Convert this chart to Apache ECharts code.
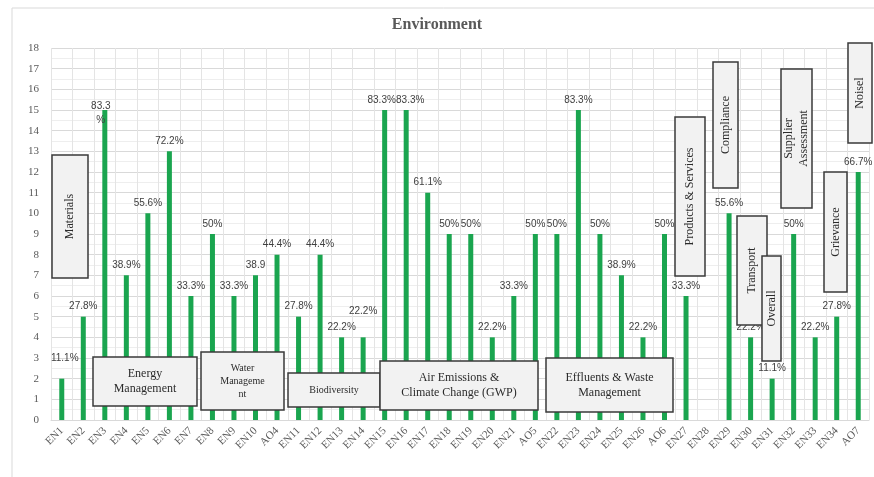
<!DOCTYPE html>
<html>
<head>
<meta charset="utf-8">
<script src="https://cdn.jsdelivr.net/npm/echarts@6/dist/echarts.min.js"></script>
<style>
  html, body { margin: 0; padding: 0; background: #fff; }
  #chart { width: 874px; height: 477px; }
</style>
</head>
<body>
<div id="chart"></div>
<script>
// Indicators along the x axis
var categories = ['EN1','EN2','EN3','EN4','EN5','EN6','EN7','EN8','EN9','EN10','AO4','EN11','EN12','EN13','EN14',
  'EN15','EN16','EN17','EN18','EN19','EN20','EN21','AO5','EN22','EN23','EN24','EN25','EN26','AO6','EN27','EN28',
  'EN29','EN30','EN31','EN32','EN33','EN34','AO7'];

// Number of reports disclosing each indicator (out of 18)
var counts = [2,5,15,7,10,13,6,9,6,7,8,5,8,4,4,
  15,15,11,9,9,4,6,9,9,15,9,7,4,9,6,0,
  10,4,2,9,4,5,12];

// Percentage labels shown above the bars
var percentLabels = ['11.1%','27.8%','83.3\n%','38.9%','55.6%','72.2%','33.3%','50%','33.3%','38.9','44.4%','27.8%','44.4%','22.2%','22.2%',
  '83.3%','83.3%','61.1%','50%','50%','22.2%','33.3%','50%','50%','83.3%','50%','38.9%','22.2%','50%','33.3%','',
  '55.6%','22.2%','11.1%','50%','22.2%','27.8%','66.7%'];

// Y axis tick values
var yTicks = [0,1,2,3,4,5,6,7,8,9,10,11,12,13,14,15,16,17,18];

// Aspect groups drawn as annotation boxes
var groupNames = ['Materials','Energy\nManagement','Water\nManageme\nnt','Biodiversity','Air Emissions &\nClimate Change (GWP)',
  'Effluents & Waste\nManagement','Products & Services','Compliance','Transport','Overall','Supplier\nAssessment','Grievance','Noisel'];

var chart = echarts.init(document.getElementById('chart'), null, { renderer: 'canvas' });

var serif = '"Liberation Serif", "DejaVu Serif", serif';

// a few labels are nudged so they do not collide with neighbours
var labelNudges = {
  EN1: [3, -10],
  EN3: [-4, 20],
  EN14: [0, -16],
  EN16: [4, 0],
  EN15: [-3, 0]
};

var barData = counts.map(function (v, i) {
  var item = { value: v };
  var nudge = labelNudges[categories[i]];
  if (nudge) {
    item.label = { offset: nudge };
  }
  return item;
});

// annotation box helper: x, y, w, h in pixels
function box(x, y, w, h, text, fontSize, vertical) {
  return {
    type: 'group',
    children: [
      {
        type: 'rect',
        shape: { x: x, y: y, width: w, height: h },
        style: { fill: '#f2f2f2', stroke: '#3a3a3a', lineWidth: 1.5 },
        z: 10
      },
      {
        type: 'text',
        x: x + w / 2,
        y: y + h / 2,
        rotation: vertical ? Math.PI / 2 : 0,
        style: {
          text: text,
          font: fontSize + 'px ' + serif,
          fill: '#2b2b2b',
          textAlign: 'center',
          textVerticalAlign: 'middle',
          lineHeight: fontSize + 3
        },
        z: 11
      }
    ]
  };
}

var option = {
  backgroundColor: '#ffffff',
  animation: false,
  title: {
    text: 'Environment',
    left: 'center',
    top: 12,
    textStyle: { fontFamily: serif, fontSize: 16, fontWeight: 'bold', color: '#595959' }
  },
  grid: { left: 51, right: 5, top: 48, bottom: 57, containLabel: false },
  xAxis: {
    type: 'category',
    data: categories,
    boundaryGap: true,
    axisLine: { show: true, lineStyle: { color: '#d9d9d9' } },
    axisTick: { show: false },
    axisLabel: {
      interval: 0,
      rotate: 45,
      margin: 9,
      fontFamily: serif,
      fontSize: 11,
      color: '#595959'
    },
    splitLine: { show: true, interval: 0, lineStyle: { color: '#e4e4e4', width: 1 } }
  },
  yAxis: {
    type: 'value',
    min: yTicks[0],
    max: yTicks[yTicks.length - 1],
    interval: 1,
    axisLine: { show: false },
    axisTick: { show: false },
    axisLabel: { fontFamily: serif, fontSize: 11, color: '#595959', margin: 12 },
    splitLine: { show: true, lineStyle: { color: '#d9d9d9', width: 1 } },
    minorTick: { show: false, splitNumber: 2 },
    minorSplitLine: { show: true, lineStyle: { color: '#eeeeee', width: 1 } }
  },
  series: [{
    type: 'bar',
    data: barData,
    barWidth: 5,
    itemStyle: { color: '#1aa54f' },
    label: {
      show: true,
      position: 'top',
      distance: 3,
      fontFamily: '"Liberation Sans", Arial, sans-serif',
      fontSize: 10,
      color: '#404040',
      lineHeight: 14,
      formatter: function (p) { return percentLabels[p.dataIndex]; }
    },
    z: 5
  }],
  graphic: [
    {
      type: 'rect',
      shape: { x: 12, y: 8, width: 880, height: 480 },
      style: { fill: 'none', stroke: '#d9d9d9', lineWidth: 1 },
      z: 0
    },
    box(52, 155, 36, 123, groupNames[0], 12, true),
    box(93, 357, 104, 49, groupNames[1], 12, false),
    box(201, 352, 83, 58, groupNames[2], 10, false),
    box(288, 373, 92, 34, groupNames[3], 10, false),
    box(380, 361, 158, 49, groupNames[4], 12, false),
    box(546, 358, 127, 54, groupNames[5], 12, false),
    box(675, 117, 30, 159, groupNames[6], 12, true),
    box(713, 62, 25, 126, groupNames[7], 12, true),
    box(737, 216, 30, 109, groupNames[8], 12, true),
    box(762, 256, 19, 105, groupNames[9], 12, true),
    box(781, 69, 31, 139, groupNames[10], 12, true),
    box(824, 172, 23, 120, groupNames[11], 12, true),
    box(848, 43, 24, 100, groupNames[12], 12, true)
  ]
};

chart.setOption(option);
</script>
</body>
</html>
